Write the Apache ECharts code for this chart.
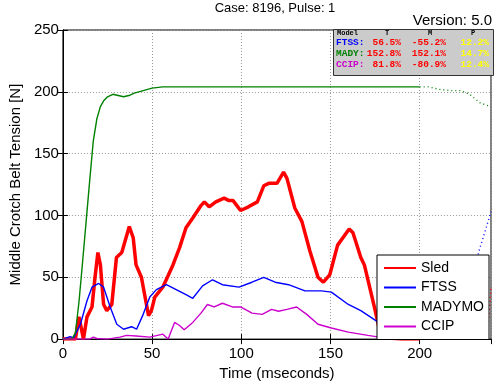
<!DOCTYPE html>
<html><head><meta charset="utf-8">
<script src="https://cdn.jsdelivr.net/npm/echarts@6/dist/echarts.min.js"></script>
<style>html,body{margin:0;padding:0;background:#fff}#c{width:495px;height:386px}</style>
</head><body><div id="c"></div>
<script>
// ---- data ----
const sledT = [0,7,9,10,11.5,13.5,16.3,18,19.6,21,22.8,24.6,27.4,30,33,37.2,39.4,41,44,48,49.6,51.5,56,61.7,65.4,69,72.8,77.4,79.3,82,85.7,90.4,93.1,95.4,99.6,104,109,112.6,115.4,120,123.7,125.6,130,134,138.5,143,146,149.6,154,160.5,162.6,167,169,174.6,178,180,190,200];
const sledV = [0,0,18,19,0,18,26,50,70,60,28,23,28,66,70,91,82,60,50,19,23,34,42,60,74,90,98,108,111,107,111,114,112,112,104,107,111,124,126,126,135,130,106,95,71,50,46,52,76,89,86,66,60,26,4,1,0,0];
const sledExtT = [200,238,240];
const sledExtV = [0.5,1,42];

const ftssT = [0,4,6,9.8,13.5,16.3,20,22.8,26.5,30.2,34,38.5,41.3,45,48.7,52.4,58,63.5,69,72.8,78.3,83.9,89.4,98.7,106,112.6,119,126.5,135.7,145,150.5,160,167,176.5,182,190,200];
const ftssV = [0,2,1,12,31,42,45,42,26,12,8,10,8,20,34,40,44,40,36,33,43,48,44,42,46,50,46,44,39,39,38,28,23,14,3,1,0];
const ftssExtT = [200,226,230,233,236,240];
const ftssExtV = [0,0,35,70,84,103];

const madyT = [0,5,7,9,11,13,15,17,19,21,23,25,28,31,34,37,40,45,50,56,70,100,150,200];
const madyV = [0,0,5,30,62,95,128,160,178,188,193,196,198,197,196,197,199,201,203,204,204,204,204,204];
const madyExtT = [200,205,211,218,223,228,234,240];
const madyExtV = [204,204,202,201,201,198,191,188];

const ccipT = [0,15,17,19,25,32,35.7,41,48.7,56,59,62.6,65.4,68,72.8,77.4,81,84.8,89.4,95,99.6,106,111.7,117,120.9,125.6,131,136.7,143,150.5,160,171,180,200];
const ccipV = [0,0,1.6,0.5,0,1.6,3,2.5,1.6,4,0,13.5,11,7.5,13.5,21,28,26,29,26,26,21,20,24,22.5,24,26,20,12,9,5.6,3,1,0.5];
const ccipExtT = [200,240];
const ccipExtV = [0.5,1];

const seriesNames = ['Sled','FTSS','MADYMO','CCIP'];
const xTicks = [0,50,100,150,200];
const yTicks = [0,50,100,150,200,250];
const titleText = 'Case: 8196, Pulse: 1';
const versionText = 'Version: 5.0';
const yName = 'Middle Crotch Belt Tension [N]';
const xName = 'Time (mseconds)';
const tableHeader = ['Model','T','M','P'];
const tableModels = ['FTSS:','MADY:','CCIP:'];
const tableT = ['56.5%','152.8%','81.8%'];
const tableM = ['-55.2%','152.1%','-80.9%'];
const tableP = ['12.2%','14.7%','12.4%'];

// ---- build ----
const FONT = '"Liberation Sans", Arial, sans-serif';
const MONO = '"Liberation Mono", "Courier New", monospace';
const colors = ['#ff0000','#0000ff','#008000','#cc00cc'];
const widths = [3.5,1.4,1.4,1.4];
const zip = (t,v) => t.map((x,i)=>[x,v[i]]);
const main = [zip(sledT,sledV), zip(ftssT,ftssV), zip(madyT,madyV), zip(ccipT,ccipV)];
const ext = [zip(sledExtT,sledExtV), zip(ftssExtT,ftssExtV), zip(madyExtT,madyExtV), zip(ccipExtT,ccipExtV)];

const series = [];
seriesNames.forEach((n,i)=>{
  series.push({name:n, type:'line', data:main[i], symbol:'none', smooth:false, animation:false,
    lineStyle:{color:colors[i], width:widths[i]}, itemStyle:{color:colors[i]}, z:2+i});
});
seriesNames.forEach((n,i)=>{
  series.push({name:n+'_ext', type:'line', data:ext[i], symbol:'none', animation:false,
    lineStyle:{color:colors[i], width:1.4, type:[1,3]}, itemStyle:{color:colors[i]}, z:2});
});

const tcols = ['#0000ff','#008000','#cc00cc'];
const g = [];
g.push({type:'rect', shape:{x:333.5,y:29.5,width:160,height:46}, style:{fill:'#cbcbcb', stroke:'#333', lineWidth:1}, z:100});
g.push({type:'text', x:337, y:33, style:{text:tableHeader[0], font:'bold 7px '+MONO, fill:'#000', textVerticalAlign:'middle'}, z:101});
[[387,1],[430,2],[473,3]].forEach(([x,k])=>g.push({type:'text', x:x, y:33, style:{text:tableHeader[k], font:'bold 7px '+MONO, fill:'#000', textAlign:'center', textVerticalAlign:'middle'}, z:101}));
[42.5,53.5,64.5].forEach((y,r)=>{
  g.push({type:'text', x:336, y:y, style:{text:tableModels[r], font:'bold 9.5px '+MONO, fill:tcols[r], textVerticalAlign:'middle'}, z:101});
  g.push({type:'text', x:401, y:y, style:{text:tableT[r], font:'bold 9.5px '+MONO, fill:'#ff0000', textAlign:'right', textVerticalAlign:'middle'}, z:101});
  g.push({type:'text', x:446, y:y, style:{text:tableM[r], font:'bold 9.5px '+MONO, fill:'#ff0000', textAlign:'right', textVerticalAlign:'middle'}, z:101});
  g.push({type:'text', x:489, y:y, style:{text:tableP[r], font:'bold 9.5px '+MONO, fill:'#ffff00', textAlign:'right', textVerticalAlign:'middle'}, z:101});
});
g.push({type:'text', x:275, y:8, style:{text:titleText, font:'13px '+FONT, fill:'#000', textAlign:'center', textVerticalAlign:'middle'}, z:101});
g.push({type:'text', x:492, y:21, style:{text:versionText, font:'15px '+FONT, fill:'#000', textAlign:'right', textVerticalAlign:'middle'}, z:101});

const chart = echarts.init(document.getElementById('c'), null, {renderer:'canvas'});
const axisCommon = {
  axisLine:{show:true, lineStyle:{color:'#000', width:1}},
  axisTick:{show:true, inside:true, length:5, lineStyle:{color:'#000'}},
};
chart.setOption({
  animation:false,
  backgroundColor:'#fff',
  grid:{left:59, right:4, top:30, bottom:44, show:true, borderColor:'#000', borderWidth:1, backgroundColor:'transparent'},
  legend:{data:seriesNames, orient:'vertical', left:377, top:255, backgroundColor:'#fff', borderColor:'#000', borderWidth:1,
    padding:[6,5,6,6], itemWidth:32, itemHeight:14, itemGap:5.5, z:50,
    itemStyle:{opacity:0},
    textStyle:{fontSize:14, color:'#000', fontFamily:FONT}},
  xAxis:[
    Object.assign({type:'value', min:0, max:240, interval:50, position:'bottom',
      name:xName, nameLocation:'middle', nameGap:23, nameTextStyle:{fontSize:15, color:'#000', fontFamily:FONT},
      axisLabel:{fontSize:15, color:'#000', fontFamily:FONT, margin:7, showMaxLabel:false,
        formatter:(v)=> xTicks.includes(v) ? String(v) : ''},
      splitLine:{show:true, lineStyle:{color:'#999', type:[1,2], width:1}}}, axisCommon),
    Object.assign({type:'value', min:0, max:240, interval:50, position:'top', axisLabel:{show:false}, splitLine:{show:false}}, axisCommon)
  ],
  yAxis:[
    Object.assign({type:'value', min:0, max:250, interval:50, position:'left',
      name:yName, nameLocation:'middle', nameGap:29, nameTextStyle:{fontSize:15, color:'#000', fontFamily:FONT},
      axisLabel:{fontSize:15, color:'#000', fontFamily:FONT, margin:4,
        formatter:(v)=> yTicks.includes(v) ? String(v) : ''},
      splitLine:{show:true, lineStyle:{color:'#999', type:[1,2], width:1}}}, axisCommon),
    Object.assign({type:'value', min:0, max:250, interval:50, position:'right', axisLabel:{show:false}, splitLine:{show:false}}, axisCommon)
  ],
  series:series,
  graphic:g
});
</script></body></html>
